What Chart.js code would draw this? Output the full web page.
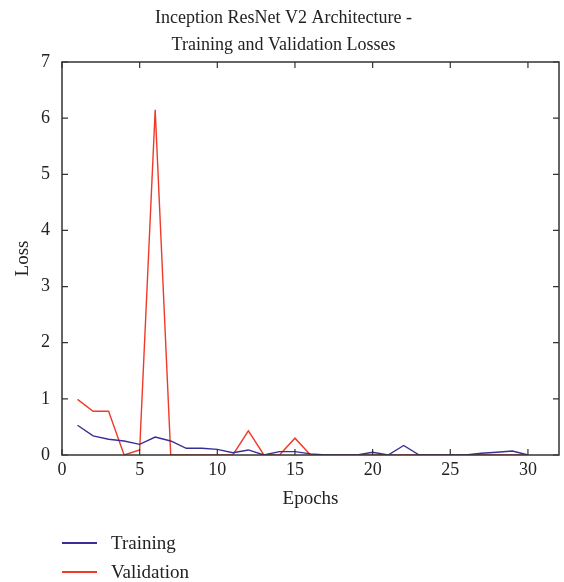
<!DOCTYPE html>
<html>
<head>
<meta charset="utf-8">
<script src="https://cdn.jsdelivr.net/npm/chart.js@4"></script>
<style>
  body { margin: 0; background: #fff; }
  #wrap { position: relative; width: 564px; height: 582px; }
  #legende { position: absolute; left: 62px; top: 528px; font-family: "Liberation Serif", serif; font-size: 19px; color: #222; }
  .item { display: flex; align-items: center; height: 29px; }
  .trait { width: 35px; height: 0; border-top: 2px solid; margin-right: 14px; }
</style>
</head>
<body>
<div id="wrap">
  <canvas id="graphique" width="564" height="582"></canvas>
  <div id="legende">
    <div class="item"><span class="trait" style="border-color:#3a2d96"></span>Training</div>
    <div class="item"><span class="trait" style="border-color:#ef3a28"></span>Validation</div>
  </div>
</div>
<script>
const epochs = [1,2,3,4,5,6,7,8,9,10,11,12,13,14,15,16,17,18,19,20,21,22,23,24,25,26,27,28,29,30];
const training = [0.53,0.34,0.28,0.25,0.19,0.32,0.25,0.12,0.12,0.10,0.04,0.09,0.0,0.06,0.06,0.02,0.0,0.0,0.0,0.05,0.0,0.17,0.0,0.0,0.0,0.0,0.03,0.05,0.07,0.0];
const validation = [0.99,0.78,0.78,0.0,0.09,6.15,0.0,0.0,0.0,0.0,0.0,0.43,0.0,0.0,0.30,0.0,0.0,0.0,0.0,0.0,0.0,0.0,0.0,0.0,0.0,0.0,0.0,0.0,0.0,0.0];
const xTicks = [0,5,10,15,20,25,30];
const yTicks = [0,1,2,3,4,5,6,7];

const police = "'Liberation Serif', serif";

// ticks vers l'intérieur + cadre
const cadre = {
  id: 'cadre',
  afterDraw(chart) {
    const ctx = chart.ctx;
    const a = chart.chartArea;
    const x = chart.scales.x, y = chart.scales.y;
    ctx.save();
    ctx.strokeStyle = '#333';
    ctx.lineWidth = 1.5;
    ctx.strokeRect(a.left, a.top, a.right - a.left, a.bottom - a.top);
    ctx.lineWidth = 1.2;
    ctx.beginPath();
    xTicks.forEach(v => {
      const px = x.getPixelForValue(v);
      ctx.moveTo(px, a.bottom); ctx.lineTo(px, a.bottom - 6);
      ctx.moveTo(px, a.top); ctx.lineTo(px, a.top + 6);
    });
    yTicks.forEach(v => {
      const py = y.getPixelForValue(v);
      ctx.moveTo(a.left, py); ctx.lineTo(a.left + 6, py);
      ctx.moveTo(a.right, py); ctx.lineTo(a.right - 6, py);
    });
    ctx.stroke();
    ctx.restore();
  }
};

new Chart(document.getElementById('graphique'), {
  type: 'line',
  data: {
    labels: epochs,
    datasets: [
      { label: 'Training', data: epochs.map((e, i) => ({ x: e, y: training[i] })), borderColor: '#3a2d96', borderWidth: 1.4, pointRadius: 0, tension: 0 },
      { label: 'Validation', data: epochs.map((e, i) => ({ x: e, y: validation[i] })), borderColor: '#ef3a28', borderWidth: 1.4, pointRadius: 0, tension: 0 }
    ]
  },
  options: {
    responsive: false,
    animation: false,
    layout: { padding: { left: 8, right: 5, top: 0, bottom: 72 } },
    plugins: {
      legend: { display: false },
      tooltip: { enabled: false },
      title: {
        display: true,
        text: ['Inception ResNet V2 Architecture -', 'Training and Validation Losses'],
        color: '#222',
        font: { family: police, size: 18, weight: 'normal', lineHeight: 1.5 },
        padding: { top: 5, bottom: 3 }
      }
    },
    scales: {
      x: {
        type: 'linear', min: 0, max: 32,
        afterBuildTicks: s => { s.ticks = xTicks.map(v => ({ value: v })); },
        afterFit: s => { s.height = 55; },
        grid: { display: false, drawTicks: false },
        border: { display: false },
        ticks: { color: '#222', font: { family: police, size: 18 }, padding: 4, maxRotation: 0 },
        title: { display: true, text: 'Epochs', color: '#222', font: { family: police, size: 19 }, padding: { top: 6, bottom: 0 } }
      },
      y: {
        min: 0, max: 7,
        afterBuildTicks: s => { s.ticks = yTicks.map(v => ({ value: v })); },
        afterFit: s => { s.width = 54; },
        grid: { display: false, drawTicks: false },
        border: { display: false },
        ticks: { color: '#222', font: { family: police, size: 18 }, padding: 12 },
        title: { display: true, text: 'Loss', color: '#222', font: { family: police, size: 19 }, padding: { bottom: 4 } }
      }
    }
  },
  plugins: [cadre]
});
</script>
</body>
</html>
